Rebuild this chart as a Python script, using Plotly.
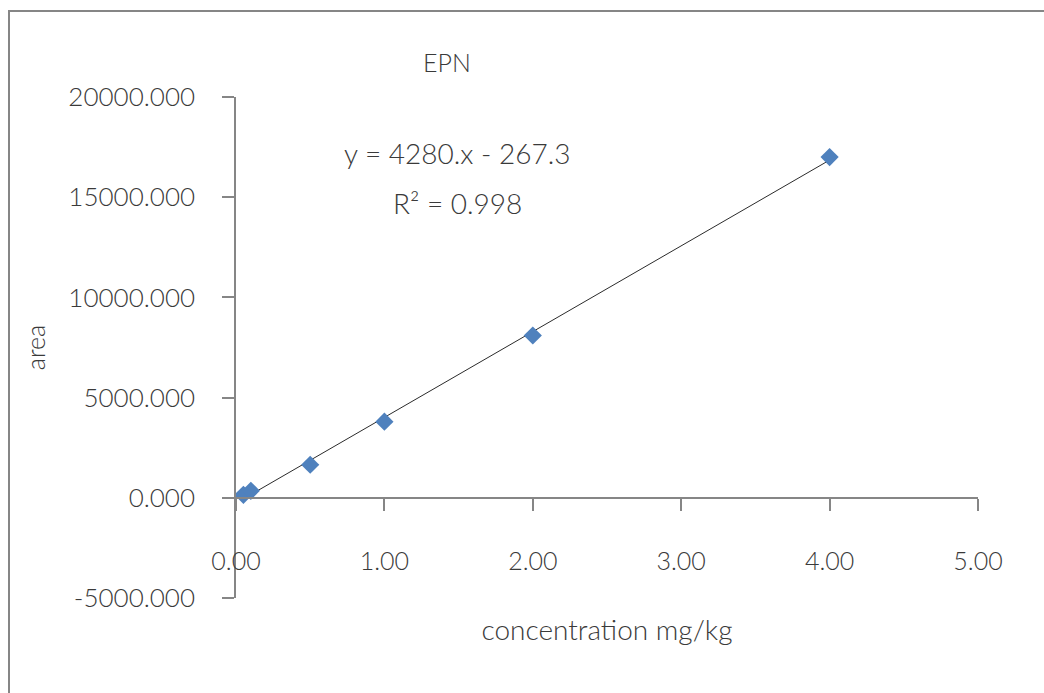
import plotly.graph_objects as go

# Calibration standards for EPN
concentration = [0.05, 0.1, 0.5, 1.0, 2.0, 4.0]
area = [150, 350, 1650, 3800, 8100, 17000]

# Linear fit reported on the chart
slope = 4280.0
intercept = -267.3
r_squared = 0.998

x_ticks = [0, 1, 2, 3, 4, 5]
x_tick_labels = ["0.00", "1.00", "2.00", "3.00", "4.00", "5.00"]
y_ticks = [-5000, 0, 5000, 10000, 15000, 20000]
y_tick_labels = ["-5000.000", "0.000", "5000.000", "10000.000", "15000.000", "20000.000"]

W, H = 1044, 693
ML, MR, MT, MB = 236, 66, 97, 95
pw, ph = W - ML - MR, H - MT - MB

FONT = "Lato"
TXT = "#3a3a3a"
AX = "#868686"

fit_x = [min(concentration), max(concentration)]
fit_y = [slope * v + intercept for v in fit_x]

fig = go.Figure()
fig.add_trace(go.Scatter(
    x=fit_x, y=fit_y, mode="lines",
    line=dict(color="#2b2b2b", width=1), showlegend=False, hoverinfo="skip",
))
fig.add_trace(go.Scatter(
    x=concentration, y=area, mode="markers",
    marker=dict(symbol="diamond", size=14, color="#4F81BD", line=dict(width=0)),
    showlegend=False,
))

# the horizontal axis crosses the vertical one at area = 0
ymin, ymax = y_ticks[0], y_ticks[-1]
zero_pos = (0 - ymin) / (ymax - ymin)


def txt(size):
    return dict(size=size, family=FONT, color=TXT, weight=300)


fig.update_layout(
    width=W, height=H,
    margin=dict(l=ML, r=MR, t=MT, b=MB, autoexpand=False),
    paper_bgcolor="white", plot_bgcolor="white",
    font=txt(25),
    title=dict(text="EPN", x=447 / W, xanchor="center",
               y=1 - 63 / H, yanchor="middle", font=txt(25)),
    xaxis=dict(
        range=[x_ticks[0], x_ticks[-1]], tickvals=x_ticks, ticktext=x_tick_labels,
        tickfont=txt(25), showgrid=False, zeroline=False,
        showline=True, linecolor=AX, linewidth=1.5,
        ticks="outside", ticklen=12, tickcolor=AX, tickwidth=1.5,
        anchor="free", position=zero_pos,
        ticklabelstandoff=29,
        title=dict(text="concentration mg/kg", standoff=46, font=txt(28)),
    ),
    yaxis=dict(
        range=[ymin, ymax], tickvals=y_ticks, ticktext=y_tick_labels,
        tickfont=txt(26), showgrid=False, zeroline=False,
        showline=True, linecolor=AX, linewidth=1.5,
        ticks="outside", ticklen=12, tickcolor=AX, tickwidth=1.5,
        ticklabelstandoff=22,
        title=dict(text="area", standoff=16, font=txt(25)),
    ),
    annotations=[
        dict(x=1.49, y=17200, xref="x", yref="y", text="y = 4280.x - 267.3",
             showarrow=False, font=txt(28)),
        dict(x=1.49, y=14700, xref="x", yref="y", text=f"R² = {r_squared}",
             showarrow=False, font=txt(28)),
    ],
    shapes=[
        dict(type="rect", xref="paper", yref="paper",
             x0=(9 - ML) / pw, x1=(W + 20 - ML) / pw,
             y0=-(H + 20 - MT - ph) / ph, y1=1 + (MT - 11) / ph,
             line=dict(color=AX, width=2), fillcolor="rgba(0,0,0,0)", layer="below"),
    ],
)

fig.write_html("out.html")
